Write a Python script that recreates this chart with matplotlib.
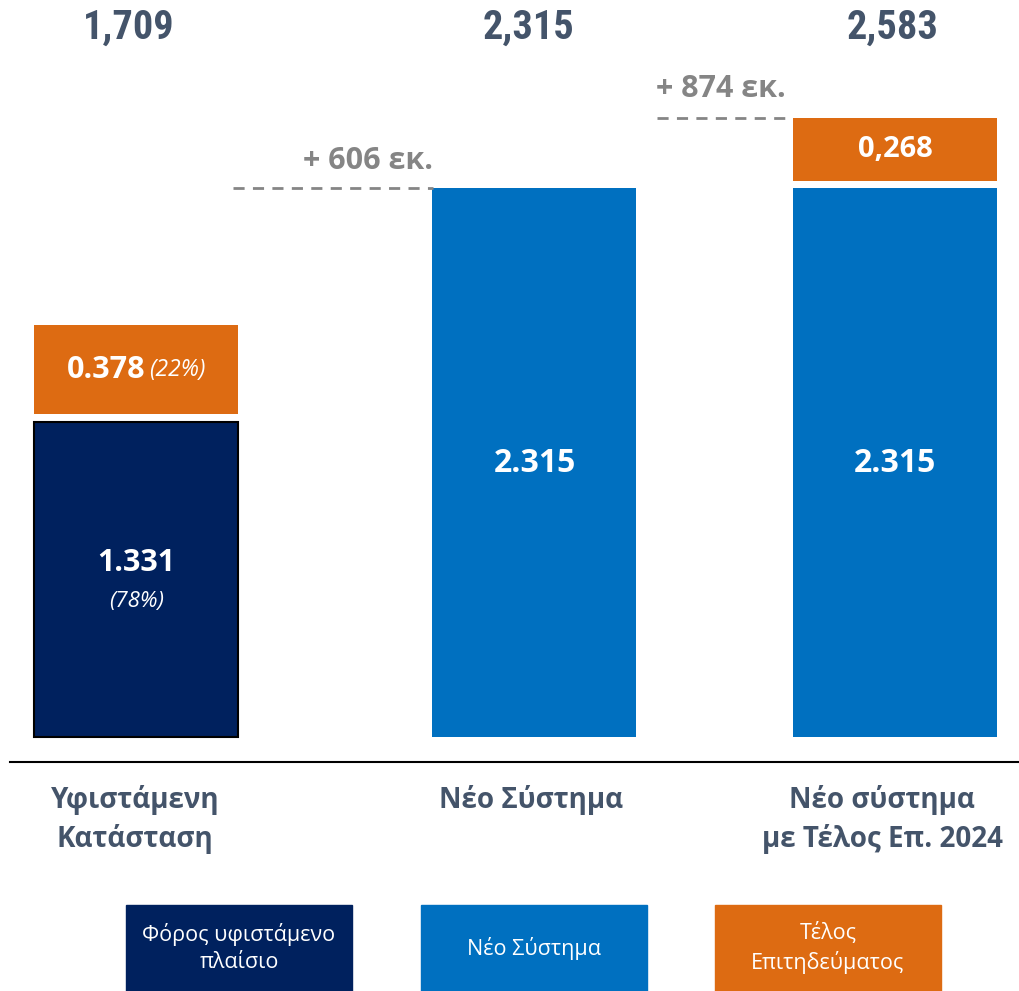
import matplotlib.pyplot as plt
from matplotlib import font_manager
from matplotlib.patches import Rectangle

# Data
categories = ['Υφιστάμενη\nΚατάσταση', 'Νέο Σύστημα', 'Νέο σύστημα\nμε Τέλος Επ. 2024']
base_values = [1.331, 2.315, 2.315]
fee_values = [0.378, 0.0, 0.268]
totals = ['1,709', '2,315', '2,583']
base_labels = ['1.331', '2.315', '2.315']
base_pct = ['(78%)', '', '']
fee_labels = ['0.378', '', '0,268']
fee_pct = ['(22%)', '', '']
diff_labels = ['+ 606 εκ.', '+ 874 εκ.']
legend_labels = ['Φόρος υφιστάμενο\nπλαίσιο', 'Νέο Σύστημα', 'Τέλος\nΕπιτηδεύματος']

NAVY = '#00215E'
BLUE = '#0070C0'
ORANGE = '#DD6B12'
SLATE = '#44546A'
GRAY = '#858585'

W, H = 1020, 991
base_px = 737          # pixel row of value 0
scale = 237            # pixels per unit
gap = 0.03


def yv(py):
    # pixel row -> data value
    return (base_px - py) / scale


fig = plt.figure(figsize=(W / 100, H / 100), dpi=100)
ax = fig.add_axes([0, 0, 1, 1])
ax.set_xlim(0, W)
ax.set_ylim(yv(H), yv(0))
ax.axis('off')

font = ['Open Sans', 'DejaVu Sans']
installed = {f.name for f in font_manager.fontManager.ttflist}
narrow = None
for name in ['Liberation Sans Narrow', 'Roboto Condensed', 'DejaVu Sans Condensed']:
    if name in installed:
        narrow = name
        break
if narrow is None:
    narrow = 'Roboto'
    total_size = 26
else:
    total_size = 29

centers = [136.5, 534.5, 895]
width = 204
base_colors = [NAVY, BLUE, BLUE]

for i, c in enumerate(centers):
    edge = 'black' if i == 0 else 'none'
    ax.bar(c, base_values[i], width=width, color=base_colors[i],
           edgecolor=edge, linewidth=1.5 if i == 0 else 0)
    if fee_values[i] > 0:
        ax.bar(c, fee_values[i], width=width, bottom=base_values[i] + gap,
               color=ORANGE, linewidth=0)

# labels inside bars
ax.text(centers[0], yv(563), base_labels[0], ha='center', va='center',
        color='white', fontsize=22, fontweight='bold', family=font)
ax.text(centers[0], yv(601), base_pct[0], ha='center', va='center',
        color='white', fontsize=16, style='italic', family=font)
for i in (1, 2):
    ax.text(centers[i], yv(463), base_labels[i], ha='center', va='center',
            color='white', fontsize=23, fontweight='bold', family=font)

y0 = base_values[0] + gap + fee_values[0] / 2
ax.text(145, y0, fee_labels[0], ha='right', va='center',
        color='white', fontsize=22, fontweight='bold', family=font)
ax.text(149, y0, fee_pct[0], ha='left', va='center',
        color='white', fontsize=16.5, style='italic', family=font)
ax.text(centers[2], base_values[2] + gap + fee_values[2] / 2, fee_labels[2],
        ha='center', va='center', color='white', fontsize=21,
        fontweight='bold', family=font)

# dashed increase markers
top2 = base_values[1]
top3 = base_values[2] + gap + fee_values[2]
ax.plot([233, 433], [top2, top2], ls=(0, (4, 3)), color=GRAY, lw=2)
ax.plot([657, 793], [top3, top3], ls=(0, (4, 3)), color=GRAY, lw=2)
ax.text(368, top2 + 0.115, diff_labels[0], ha='center', va='center',
        color=GRAY, fontsize=22, fontweight='bold', family=font)
ax.text(721, top3 + 0.12, diff_labels[1], ha='center', va='center',
        color=GRAY, fontsize=22, fontweight='bold', family=font)

# totals on top
for x, t in zip([129, 529, 893], totals):
    fig.text(x / W, 1 - 28 / H, t, ha='center', va='center', color=SLATE,
             fontsize=total_size, fontweight='bold', family=[narrow, 'DejaVu Sans'])

# baseline
ax.plot([10, 1020], [yv(762)] * 2, color='black', lw=1.5)

# category labels
for x, lab in zip([135, 531, 882], categories):
    fig.text(x / W, 1 - 785 / H, lab, ha='center', va='top', color=SLATE,
             fontsize=20, fontweight='bold', family=font, linespacing=1.4)

# legend boxes
boxes = [(126, 352), (421, 647), (715, 941)]
for (x0, x1), col, lab in zip(boxes, [NAVY, BLUE, ORANGE], legend_labels):
    fig.patches.append(Rectangle((x0 / W, 0), (x1 - x0) / W, 86 / H,
                                 transform=fig.transFigure, color=col))
    fig.text((x0 + x1) / 2 / W, 43 / H, lab, ha='center', va='center',
             color='white', fontsize=15.5, family=font, linespacing=1.35)

fig.savefig('out.png', dpi=100)
